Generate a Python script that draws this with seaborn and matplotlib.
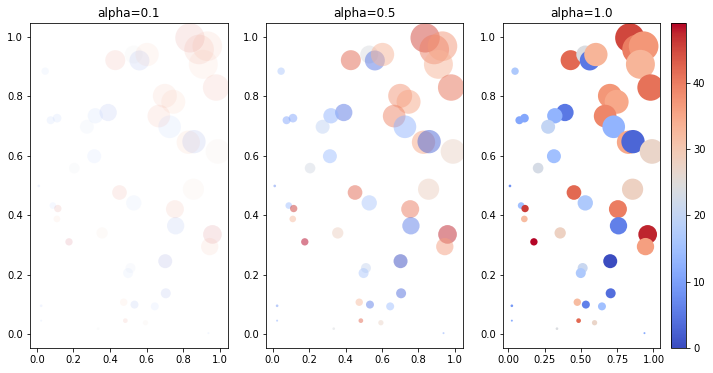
#!/usr/bin/env python3
"""
Scatter with varying marker transparency, coloured by value on coolwarm.
"""

import matplotlib
matplotlib.use("Agg")
import matplotlib.pyplot as plt
import numpy as np
import pandas as pd
import seaborn as sns

x_vals = [0.429, 0.046, 0.390, 0.320, 0.274, 0.076, 0.111, 0.314, 0.205, 0.011,
          0.530, 0.561, 0.603, 0.837, 0.887, 0.932, 0.910, 0.980, 0.700, 0.746,
          0.667, 0.726, 0.828, 0.859, 0.990, 0.856, 0.452, 0.530, 0.088, 0.115,
          0.110, 0.357, 0.176, 0.512, 0.499, 0.024, 0.024, 0.335, 0.475, 0.484,
          0.755, 0.759, 0.960, 0.945, 0.702, 0.705, 0.534, 0.645, 0.594, 0.938]
y_vals = [0.922, 0.885, 0.746, 0.735, 0.698, 0.720, 0.727, 0.599, 0.559, 0.499,
          0.941, 0.921, 0.941, 0.997, 0.958, 0.969, 0.908, 0.830, 0.802, 0.782,
          0.734, 0.698, 0.646, 0.648, 0.615, 0.488, 0.477, 0.442, 0.433, 0.423,
          0.388, 0.341, 0.311, 0.223, 0.206, 0.096, 0.046, 0.019, 0.108, 0.046,
          0.421, 0.365, 0.336, 0.295, 0.246, 0.138, 0.100, 0.094, 0.039, 0.004]
colors = [42, 17, 5, 13, 20, 11, 11, 15, 23, 8,
          24, 5, 33, 45, 40, 37, 33, 41, 37, 35,
          39, 13, 35, 3, 27, 28, 42, 17, 15, 46,
          32, 28, 49, 21, 17, 9, 12, 24, 32, 42,
          40, 6, 47.5, 36, 0, 4, 6, 15, 27, 12]
sizes = [400, 55, 300, 235, 196, 64, 75, 196, 113, 7,
         324, 400, 544, 860, 880, 880, 840, 700, 576, 576,
         514, 514, 544, 544, 608, 450, 215, 235, 44, 54,
         44, 128, 54, 100, 100, 7, 4, 7, 55, 22,
         324, 300, 350, 300, 196, 100, 64, 64, 28, 4]
alphas = [0.1, 0.5, 1.0]

df = pd.DataFrame({"x": x_vals, "y": y_vals, "c": colors, "s": sizes})
c_norm = (min(colors), max(colors))
s_norm = (min(sizes), max(sizes))

fig = plt.figure(figsize=(713 / 72, 373 / 72), dpi=72)
bottom, height = 1 - 348 / 373, (348 - 23) / 373
lefts = [30, 266, 503]
widths = [198, 197, 157]

for left, width, alpha in zip(lefts, widths, alphas):
    ax = fig.add_axes([left / 713, bottom, width / 713, height])
    sns.scatterplot(data=df, x="x", y="y", hue="c", palette="coolwarm", hue_norm=c_norm,
                    size="s", sizes=s_norm, size_norm=s_norm, alpha=alpha,
                    linewidth=0, legend=False, ax=ax)
    ax.set(xlabel="", ylabel="", xlim=(-0.037, 1.045), ylim=(-0.046, 1.047))
    ax.set_title(f"alpha={alpha}")

cax = fig.add_axes([671 / 713, bottom, 15 / 713, height])
sm = plt.cm.ScalarMappable(cmap="coolwarm", norm=plt.Normalize(*c_norm))
fig.colorbar(sm, cax=cax)

fig.savefig("out.png", dpi=72)
